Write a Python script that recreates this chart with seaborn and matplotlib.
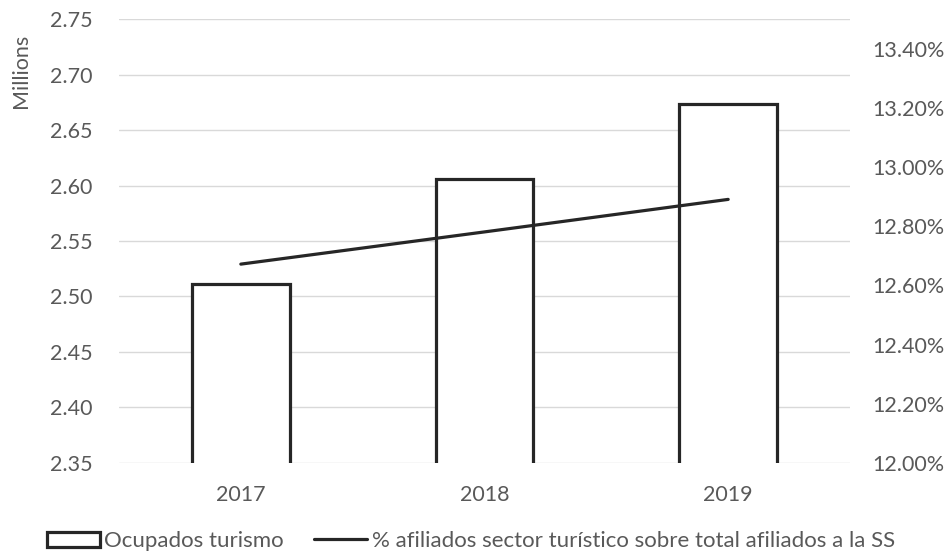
import matplotlib
matplotlib.use("Agg")
import matplotlib.pyplot as plt
import seaborn as sns
import pandas as pd
from matplotlib.patches import Patch
from matplotlib.lines import Line2D
from matplotlib.ticker import FuncFormatter, MultipleLocator

years = ["2017", "2018", "2019"]
ocupados = [2.511, 2.606, 2.674]          # millions
pct_afiliados = [12.672, 12.781, 12.891]  # %
bar_label = "Ocupados turismo"
line_label = "% afiliados sector turístico sobre total afiliados a la SS"

sns.set_theme(style="white")
plt.rcParams["font.family"] = ["Lato", "DejaVu Sans"]
TXT = "#595959"
EDGE = "#262626"
GRID = "#d9d9d9"
FS = 15.5

df = pd.DataFrame({"year": years, "ocupados": ocupados, "pct": pct_afiliados})

fig = plt.figure(figsize=(9.49, 5.59), dpi=100)
ax = fig.add_axes([0.1254, 0.1722, 0.7703, 0.7931])

sns.barplot(data=df, x="year", y="ocupados", ax=ax, color="white",
            edgecolor=EDGE, linewidth=2.3, width=0.4, saturation=1)
ax.set_ylim(2.35, 2.75)
ax.yaxis.set_major_locator(MultipleLocator(0.05))
ax.yaxis.set_major_formatter(FuncFormatter(lambda v, p: f"{v:.2f}"))
ax.grid(axis="y", color=GRID, linewidth=1.0)
ax.set_axisbelow(True)

ax2 = ax.twinx()
sns.pointplot(data=df, x="year", y="pct", ax=ax2, color=EDGE, markers="",
              linewidth=2.3, errorbar=None)
ax2.set_ylim(12.0, 13.5)
ax2.yaxis.set_major_locator(MultipleLocator(0.2))
ax2.yaxis.set_major_formatter(FuncFormatter(lambda v, p: f"{v:.2f}%"))
ax2.grid(False)

ax.set_xlim(-0.5, 2.5)
ax2.set_xlim(-0.5, 2.5)

for a in (ax, ax2):
    for s in a.spines.values():
        s.set_visible(False)
    a.set_xlabel("")
    a.set_ylabel("")

ax.tick_params(axis="y", length=0, pad=19, labelsize=FS, labelcolor=TXT)
ax.tick_params(axis="x", length=0, pad=16, labelsize=FS, labelcolor=TXT)
ax2.tick_params(axis="y", length=0, pad=16, labelsize=FS, labelcolor=TXT)
ax2.tick_params(axis="x", length=0, labelbottom=False)

fig.text(21 / 949, 1 - 71 / 559, "Millions", rotation=90, ha="center",
         va="center", fontsize=FS, color=TXT)

handles = [Patch(facecolor="white", edgecolor=EDGE, linewidth=2.3),
           Line2D([0], [0], color=EDGE, linewidth=2.3)]
fig.legend(handles, [bar_label, line_label], loc="center",
           bbox_to_anchor=(0.496, 1 - 541 / 559), ncol=2, frameon=False,
           fontsize=16, labelcolor=TXT, handlelength=2.4, handletextpad=0.2,
           columnspacing=1.35, handleheight=0.65)

fig.savefig("out.png", dpi=100)
